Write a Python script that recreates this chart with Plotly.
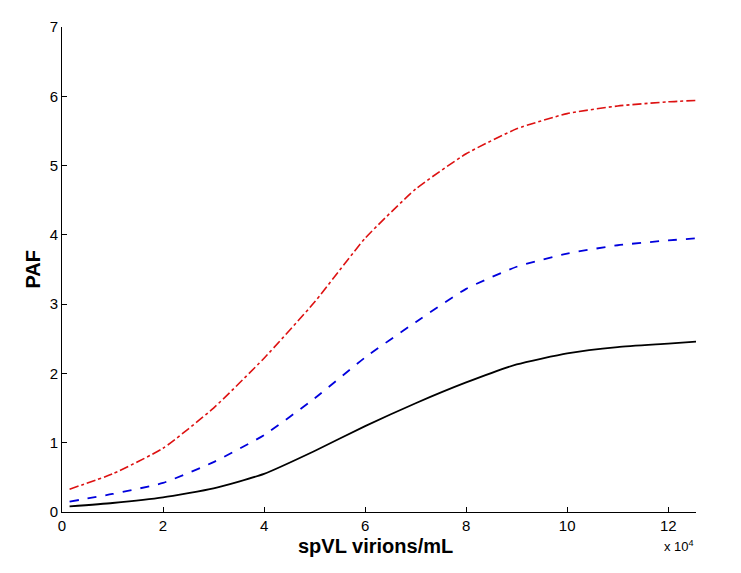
import plotly.graph_objects as go

x_vals = [0.15, 1, 2, 3, 4, 5, 6, 7, 8, 9, 10, 11, 12, 12.55]
red_vals = [0.33, 0.55, 0.92, 1.50, 2.22, 3.03, 3.95, 4.66, 5.17, 5.53, 5.75, 5.86, 5.92, 5.94]
blue_vals = [0.15, 0.26, 0.42, 0.72, 1.11, 1.64, 2.23, 2.74, 3.22, 3.54, 3.73, 3.85, 3.92, 3.95]
black_vals = [0.08, 0.13, 0.21, 0.34, 0.55, 0.88, 1.24, 1.57, 1.87, 2.13, 2.29, 2.38, 2.43, 2.46]

x_ticks = [0, 2, 4, 6, 8, 10, 12]
y_ticks = [0, 1, 2, 3, 4, 5, 6, 7]

FONT = "Liberation Sans, Arial, sans-serif"

fig = go.Figure()
fig.add_trace(go.Scatter(x=x_vals, y=red_vals, mode="lines",
                         line=dict(color="#dd1111", width=1.6, dash="dashdot", shape="spline", smoothing=0.5),
                         showlegend=False))
fig.add_trace(go.Scatter(x=x_vals, y=blue_vals, mode="lines",
                         line=dict(color="#0000dd", width=1.8, dash="dash", shape="spline", smoothing=0.5),
                         showlegend=False))
fig.add_trace(go.Scatter(x=x_vals, y=black_vals, mode="lines",
                         line=dict(color="black", width=1.8, shape="spline", smoothing=0.5),
                         showlegend=False))

axis_font = dict(family=FONT, size=15, color="black")
fig.update_layout(
    width=733, height=557,
    margin=dict(l=54, r=45, t=10, b=53),
    paper_bgcolor="white", plot_bgcolor="white",
    xaxis=dict(range=[0, 12.55], tickvals=x_ticks, ticks="inside", ticklen=5,
               showline=True, linecolor="black", linewidth=1, showgrid=False, zeroline=False,
               tickfont=axis_font, tickcolor="black"),
    yaxis=dict(range=[0, 7], tickvals=y_ticks, ticks="inside", ticklen=5,
               showline=True, linecolor="black", linewidth=1, showgrid=False, zeroline=False,
               tickfont=axis_font, tickcolor="black"),
    annotations=[
        dict(text="<b>spVL virions/mL</b>", xref="paper", yref="paper", x=0.495, y=0,
             xanchor="center", yanchor="middle", yshift=-34, showarrow=False,
             font=dict(family=FONT, size=20, color="black")),
        dict(text="<b>PAF</b>", xref="paper", yref="paper", x=0, y=0.5,
             xanchor="center", yanchor="middle", xshift=-30, textangle=-90, showarrow=False,
             font=dict(family=FONT, size=20, color="black")),
        dict(text="x 10<sup>4</sup>", xref="paper", yref="paper", x=1.0, y=0,
             xanchor="right", yanchor="middle", yshift=-34, showarrow=False,
             font=dict(family=FONT, size=13, color="black")),
    ],
)

fig.write_html("out.html")
